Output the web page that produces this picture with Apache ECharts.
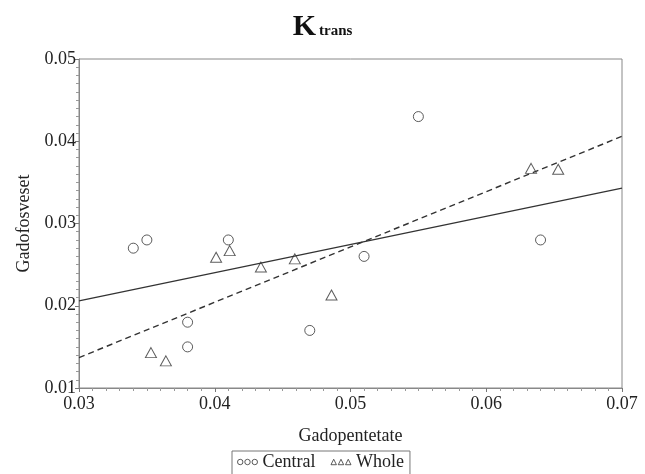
<!DOCTYPE html>
<html>
<head>
<meta charset="utf-8">
<script src="https://cdn.jsdelivr.net/npm/echarts@6/dist/echarts.min.js"></script>
<style>
  html, body { margin: 0; padding: 0; background: #fff; }
  #chart { width: 645px; height: 474px; }
</style>
</head>
<body>
<div id="chart"></div>
<script>
// values
const centralX = [0.034, 0.035, 0.041, 0.038, 0.038, 0.047, 0.055, 0.051, 0.064];
const centralY = [0.027, 0.028, 0.028, 0.018, 0.015, 0.017, 0.043, 0.026, 0.028];
const wholeX = [0.0401, 0.0411, 0.0434, 0.0459, 0.0486, 0.0353, 0.0364, 0.0633, 0.0653];
const wholeY = [0.0259, 0.0267, 0.0247, 0.0257, 0.0213, 0.0143, 0.0133, 0.0367, 0.0366];
// fitted line end points (x = 0.03 and x = 0.07)
const fitX = [0.03, 0.07];
const centralFitY = [0.0206, 0.0343];
const wholeFitY = [0.0137, 0.0406];
const xTicks = [0.03, 0.04, 0.05, 0.06, 0.07];
const yTicks = [0.01, 0.02, 0.03, 0.04, 0.05];

const pairs = (xs, ys) => xs.map((x, i) => [x, ys[i]]);
const ink = '#333';
const font = 'Liberation Serif';

const chart = echarts.init(document.getElementById('chart'));

const circlesIcon = 'path://M0,3a3,3 0 1,0 6,0a3,3 0 1,0 -6,0M8,3a3,3 0 1,0 6,0a3,3 0 1,0 -6,0M16,3a3,3 0 1,0 6,0a3,3 0 1,0 -6,0';
const trianglesIcon = 'path://M0,6L3,0L6,6ZM8,6L11,0L14,6ZM16,6L19,0L22,6Z';

chart.setOption({
    animation: false,
    title: {
        text: '{k|K}{t|trans}',
        left: 'center',
        top: 7,
        textStyle: {
            rich: {
                k: { fontFamily: font, fontWeight: 'bold', fontSize: 30, color: '#111' },
                t: { fontFamily: font, fontWeight: 'bold', fontSize: 15, color: '#111', verticalAlign: 'bottom', padding: [0, 0, 3, 3] }
            }
        }
    },
    grid: {
        left: 79, right: 23, top: 59, bottom: 86,
        show: true, borderColor: '#888', borderWidth: 1
    },
    legend: {
        left: 232,
        top: 451,
        orient: 'horizontal',
        padding: [2, 6, 4, 5],
        borderColor: '#777',
        borderWidth: 1,
        itemGap: 15,
        itemWidth: 20,
        itemHeight: 6,
        textStyle: { fontFamily: font, fontSize: 18, color: '#222' },
        data: [
            { name: 'Central', icon: circlesIcon, itemStyle: { color: 'transparent', borderColor: ink, borderWidth: 1 } },
            { name: 'Whole', icon: trianglesIcon, itemStyle: { color: 'transparent', borderColor: ink, borderWidth: 1 } }
        ]
    },
    xAxis: {
        type: 'value',
        min: xTicks[0],
        max: xTicks[xTicks.length - 1],
        interval: 0.01,
        name: 'Gadopentetate',
        nameLocation: 'middle',
        nameGap: 39,
        nameTextStyle: { fontFamily: font, fontSize: 18, color: '#222' },
        axisLine: { show: true, lineStyle: { color: '#888' } },
        axisTick: { show: true, inside: false, length: 4, lineStyle: { color: '#777' } },
        minorTick: { show: true, splitNumber: 10, length: 3, lineStyle: { color: '#999' } },
        splitLine: { show: false },
        axisLabel: {
            fontFamily: font, fontSize: 18, color: '#222', margin: 7,
            formatter: v => v.toFixed(2)
        }
    },
    yAxis: {
        type: 'value',
        min: yTicks[0],
        max: yTicks[yTicks.length - 1],
        interval: 0.01,
        name: 'Gadofosveset',
        nameLocation: 'middle',
        nameGap: 40,
        nameTextStyle: { fontFamily: font, fontSize: 18, color: '#222' },
        axisLine: { show: true, lineStyle: { color: '#888' } },
        axisTick: { show: true, inside: false, length: 4, lineStyle: { color: '#777' } },
        minorTick: { show: true, splitNumber: 10, length: 3, lineStyle: { color: '#999' } },
        splitLine: { show: false },
        axisLabel: {
            fontFamily: font, fontSize: 18, color: '#222', margin: 3,
            formatter: v => v.toFixed(2)
        }
    },
    series: [
        {
            name: 'Central',
            type: 'scatter',
            symbol: 'circle',
            symbolSize: 10,
            itemStyle: { color: 'transparent', borderColor: ink, borderWidth: 1 },
            data: pairs(centralX, centralY),
            z: 3
        },
        {
            name: 'Whole',
            type: 'scatter',
            symbol: 'triangle',
            symbolSize: [11, 10],
            itemStyle: { color: 'transparent', borderColor: ink, borderWidth: 1 },
            data: pairs(wholeX, wholeY),
            z: 3
        },
        {
            name: 'Central fit',
            type: 'line',
            showSymbol: false,
            silent: true,
            lineStyle: { color: ink, width: 1.2, type: 'solid' },
            data: pairs(fitX, centralFitY),
            z: 2
        },
        {
            name: 'Whole fit',
            type: 'line',
            showSymbol: false,
            silent: true,
            lineStyle: { color: ink, width: 1.4, type: [6, 4] },
            data: pairs(fitX, wholeFitY),
            z: 2
        }
    ]
});
</script>
</body>
</html>
